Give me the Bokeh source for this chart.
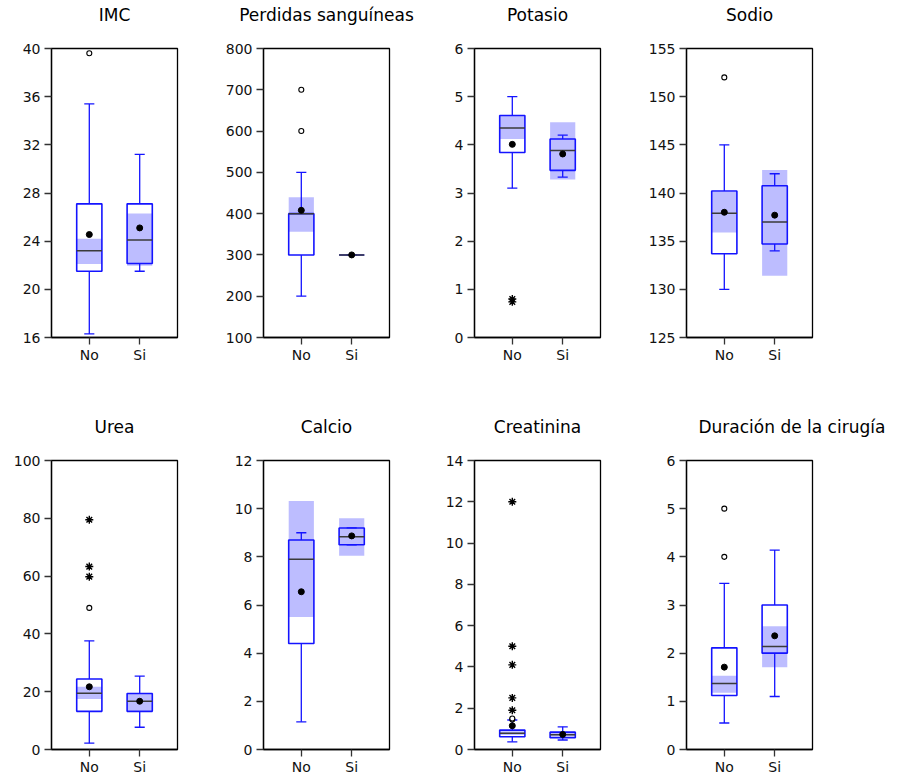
from bokeh.plotting import figure
from bokeh.layouts import gridplot
from bokeh.models import Range1d, FixedTicker, Title, ColumnDataSource
from bokeh.embed import file_html
from bokeh.resources import INLINE

categories = ["No", "Si"]

# ---- IMC ----
imc_low = [16.3, 21.5]
imc_q1 = [21.5, 22.15]
imc_med = [23.2, 24.1]
imc_q3 = [27.1, 27.1]
imc_high = [35.4, 31.2]
imc_mean = [24.55, 25.1]
imc_ci_lo = [22.1, 21.95]
imc_ci_hi = [24.2, 26.3]
imc_out = [[39.6], []]
imc_ext = [[], []]
imc_ticks = [16, 20, 24, 28, 32, 36, 40]

# ---- Perdidas sanguineas ----
per_low = [200, 300]
per_q1 = [300, 300]
per_med = [400, 300]
per_q3 = [400, 300]
per_high = [500, 300]
per_mean = [408, 300]
per_ci_lo = [356, 300]
per_ci_hi = [440, 300]
per_out = [[600, 700], []]
per_ext = [[], []]
per_ticks = [100, 200, 300, 400, 500, 600, 700, 800]

# ---- Potasio ----
pot_low = [3.1, 3.33]
pot_q1 = [3.84, 3.47]
pot_med = [4.35, 3.88]
pot_q3 = [4.61, 4.12]
pot_high = [5.0, 4.2]
pot_mean = [4.01, 3.81]
pot_ci_lo = [4.12, 3.28]
pot_ci_hi = [4.61, 4.47]
pot_out = [[], []]
pot_ext = [[0.74, 0.8], []]
pot_ticks = [0, 1, 2, 3, 4, 5, 6]

# ---- Sodio ----
sod_low = [130, 134]
sod_q1 = [133.7, 134.7]
sod_med = [137.9, 137.0]
sod_q3 = [140.2, 140.75]
sod_high = [145, 142]
sod_mean = [138.0, 137.7]
sod_ci_lo = [135.9, 131.4]
sod_ci_hi = [140.1, 142.4]
sod_out = [[152], []]
sod_ext = [[], []]
sod_ticks = [125, 130, 135, 140, 145, 150, 155]

# ---- Urea ----
ure_low = [2.2, 7.7]
ure_q1 = [13.2, 13.2]
ure_med = [19.5, 16.7]
ure_q3 = [24.4, 19.4]
ure_high = [37.6, 25.4]
ure_mean = [21.7, 16.7]
ure_ci_lo = [17.5, 13.4]
ure_ci_hi = [21.7, 19.3]
ure_out = [[49], []]
ure_ext = [[59.8, 63.3, 79.5], []]
ure_ticks = [0, 20, 40, 60, 80, 100]

# ---- Calcio ----
cal_low = [1.15, 8.5]
cal_q1 = [4.4, 8.5]
cal_med = [7.9, 8.83]
cal_q3 = [8.7, 9.2]
cal_high = [9.0, 9.2]
cal_mean = [6.55, 8.87]
cal_ci_lo = [5.5, 8.04]
cal_ci_hi = [10.32, 9.6]
cal_out = [[], []]
cal_ext = [[], []]
cal_ticks = [0, 2, 4, 6, 8, 10, 12]

# ---- Creatinina ----
cre_low = [0.37, 0.46]
cre_q1 = [0.62, 0.57]
cre_med = [0.79, 0.72]
cre_q3 = [0.94, 0.84]
cre_high = [1.43, 1.1]
cre_mean = [1.15, 0.73]
cre_ci_lo = [0.7, 0.6]
cre_ci_hi = [0.88, 0.82]
cre_out = [[1.45, 1.5], []]
cre_ext = [[1.9, 2.5, 4.1, 5.0, 12.0], []]
cre_ticks = [0, 2, 4, 6, 8, 10, 12, 14]

# ---- Duracion de la cirugia ----
dur_low = [0.55, 1.1]
dur_q1 = [1.12, 2.0]
dur_med = [1.37, 2.14]
dur_q3 = [2.11, 3.0]
dur_high = [3.45, 4.14]
dur_mean = [1.71, 2.36]
dur_ci_lo = [1.18, 1.71]
dur_ci_hi = [1.53, 2.56]
dur_out = [[4.0, 5.0], []]
dur_ext = [[], []]
dur_ticks = [0, 1, 2, 3, 4, 5, 6]

panels = [
    ("IMC", imc_low, imc_q1, imc_med, imc_q3, imc_high, imc_mean, imc_ci_lo, imc_ci_hi, imc_out, imc_ext, imc_ticks),
    ("Perdidas sanguíneas", per_low, per_q1, per_med, per_q3, per_high, per_mean, per_ci_lo, per_ci_hi, per_out, per_ext, per_ticks),
    ("Potasio", pot_low, pot_q1, pot_med, pot_q3, pot_high, pot_mean, pot_ci_lo, pot_ci_hi, pot_out, pot_ext, pot_ticks),
    ("Sodio", sod_low, sod_q1, sod_med, sod_q3, sod_high, sod_mean, sod_ci_lo, sod_ci_hi, sod_out, sod_ext, sod_ticks),
    ("Urea", ure_low, ure_q1, ure_med, ure_q3, ure_high, ure_mean, ure_ci_lo, ure_ci_hi, ure_out, ure_ext, ure_ticks),
    ("Calcio", cal_low, cal_q1, cal_med, cal_q3, cal_high, cal_mean, cal_ci_lo, cal_ci_hi, cal_out, cal_ext, cal_ticks),
    ("Creatinina", cre_low, cre_q1, cre_med, cre_q3, cre_high, cre_mean, cre_ci_lo, cre_ci_hi, cre_out, cre_ext, cre_ticks),
    ("Duración de la cirugía", dur_low, dur_q1, dur_med, dur_q3, dur_high, dur_mean, dur_ci_lo, dur_ci_hi, dur_out, dur_ext, dur_ticks),
]

FONT = "DejaVu Sans"
BLUE = "#1414ff"
FW, FH = 126, 289
LEFTS = [51, 43, 43, 43]
RIGHTS = [43, 42, 43, 83]
TOP_BORDER = 70
BOTTOMS = [53, 24]
TITLE_STANDOFF = 47
SHIFT_UP = 22
TITLE_ALIGN = ["center"] * 7 + ["left"]
TITLE_OFFSET = [0] * 7 + [12]
HALF = 0.25
CAP = 0.1


def make_panel(i, spec):
    (title, low, q1, med, q3, high, mean, ci_lo, ci_hi, outs, exts, ticks) = spec
    row, col = divmod(i, 4)
    p = figure(
        width=LEFTS[col] + FW + RIGHTS[col], height=TOP_BORDER + FH + BOTTOMS[row],
        frame_width=FW, frame_height=FH,
        min_border_left=LEFTS[col], min_border_right=RIGHTS[col],
        min_border_top=TOP_BORDER, min_border_bottom=BOTTOMS[row],
        x_range=Range1d(-0.75, 1.75), y_range=Range1d(ticks[0], ticks[-1]),
        output_backend="svg", toolbar_location=None,
    )
    xs = list(range(len(categories)))
    src = ColumnDataSource(dict(
        x=xs,
        left=[x - HALF for x in xs], right=[x + HALF for x in xs],
        cl=[x - CAP for x in xs], cr=[x + CAP for x in xs],
        low=low, q1=q1, med=med, q3=q3, high=high, mean=mean,
        ci_lo=ci_lo, ci_hi=ci_hi,
    ))
    # white box body
    p.quad(left="left", right="right", bottom="q1", top="q3", source=src,
           fill_color="white", line_color=None)
    # confidence band of the median
    p.quad(left="left", right="right", bottom="ci_lo", top="ci_hi", source=src,
           fill_color="#0000ff", fill_alpha=0.26, line_color=None)
    # whiskers and caps
    p.segment(x0="x", y0="q3", x1="x", y1="high", source=src, line_color=BLUE, line_width=1.3)
    p.segment(x0="x", y0="q1", x1="x", y1="low", source=src, line_color=BLUE, line_width=1.3)
    p.segment(x0="cl", y0="high", x1="cr", y1="high", source=src, line_color=BLUE, line_width=1.3)
    p.segment(x0="cl", y0="low", x1="cr", y1="low", source=src, line_color=BLUE, line_width=1.3)
    # box outline
    p.quad(left="left", right="right", bottom="q1", top="q3", source=src,
           fill_color=None, line_color=BLUE, line_width=1.6)
    # median
    p.segment(x0="left", y0="med", x1="right", y1="med", source=src, line_color="#3a3a3a", line_width=1.5)
    # mean
    p.scatter(x="x", y="mean", source=src, marker="circle", size=6, fill_color="black", line_color="black")
    # outliers
    ox, oy, ex, ey = [], [], [], []
    for x, vals in zip(xs, outs):
        ox += [x] * len(vals)
        oy += vals
    for x, vals in zip(xs, exts):
        ex += [x] * len(vals)
        ey += vals
    if oy:
        p.scatter(x=ox, y=oy, marker="circle", size=5, fill_color="white", line_color="black", line_width=1.1)
    if ey:
        p.scatter(x=ex, y=ey, marker="asterisk", size=8, line_color="black", line_width=1.4)

    p.xgrid.visible = False
    p.ygrid.visible = False
    p.xaxis.ticker = FixedTicker(ticks=xs)
    p.xaxis.major_label_overrides = {x: c for x, c in zip(xs, categories)}
    p.yaxis.ticker = FixedTicker(ticks=ticks)
    for ax in (p.xaxis, p.yaxis):
        ax.axis_line_color = "black"
        ax.axis_line_width = 1.3
        ax.major_tick_line_color = "#333333"
        ax.major_tick_line_width = 1.3
        ax.major_tick_out = 7
        ax.major_tick_in = 0
        ax.minor_tick_line_color = None
        ax.major_label_text_font = FONT
        ax.major_label_text_font_size = "14px"
        ax.major_label_text_color = "#111111"
    p.yaxis.major_label_standoff = 4
    p.xaxis.major_label_standoff = 2
    p.outline_line_color = "black"
    p.outline_line_width = 1.3
    p.outline_line_alpha = 1.0
    p.background_fill_color = "white"
    p.border_fill_color = "white"

    p.title = Title(text=title, vertical_align="bottom", standoff=TITLE_STANDOFF,
                    align=TITLE_ALIGN[i], offset=TITLE_OFFSET[i],
                    text_font=FONT, text_font_size="17px", text_font_style="normal",
                    text_color="black")
    return p


figs = [make_panel(i, s) for i, s in enumerate(panels)]
grid = gridplot([figs[:4], figs[4:]], toolbar_location=None)
grid.margin = (-SHIFT_UP, 0, 0, 0)

open("out.html", "w").write(file_html(grid, INLINE))
